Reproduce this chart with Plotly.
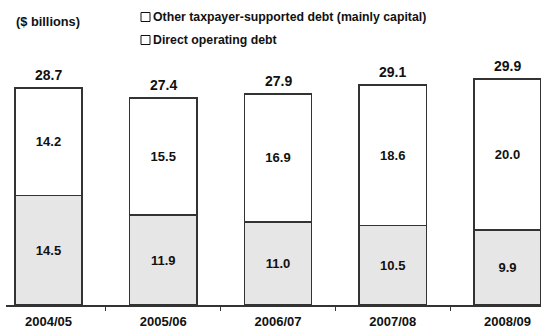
import plotly.graph_objects as go

categories = ["2004/05", "2005/06", "2006/07", "2007/08", "2008/09"]
direct_operating = [14.5, 11.9, 11.0, 10.5, 9.9]
other_taxpayer = [14.2, 15.5, 16.9, 18.6, 20.0]
totals = [28.7, 27.4, 27.9, 29.1, 29.9]

FONT = "Arial, 'Liberation Sans', sans-serif"
W, H = 541, 328
ML, MR, MT, MB = 6, 0, 0, 23
PW, PH = W - ML - MR, H - MT - MB

def px_x(px):
    return (px - ML) / PW

def px_y(py):
    return 1 - (py - MT) / PH

fig = go.Figure()
fig.add_trace(go.Bar(
    x=categories, y=direct_operating, name="Direct operating debt",
    marker=dict(color="#e6e6e6", line=dict(color="#333333", width=1.5)),
    text=[f"{v:.1f}" for v in direct_operating], textposition="inside",
    insidetextanchor="middle",
    textfont=dict(family=FONT, size=13, color="#111111", weight="bold"),
    width=0.587,
))
fig.add_trace(go.Bar(
    x=categories, y=other_taxpayer, name="Other taxpayer-supported debt (mainly capital)",
    marker=dict(color="#ffffff", line=dict(color="#333333", width=1.5)),
    text=[f"{v:.1f}" for v in other_taxpayer], textposition="inside",
    insidetextanchor="middle",
    textfont=dict(family=FONT, size=13, color="#111111", weight="bold"),
    width=0.587,
))

for c, t in zip(categories, totals):
    fig.add_annotation(x=c, y=t, text=f"<b>{t:.1f}</b>", showarrow=False,
                       yanchor="bottom", yshift=3,
                       font=dict(family=FONT, size=14, color="#111111"))

# header text and custom legend
fig.add_annotation(xref="paper", yref="paper", x=px_x(14), y=px_y(22),
                   xanchor="left", yanchor="middle", showarrow=False,
                   text="<b>($ billions)</b>", font=dict(family=FONT, size=12.8, color="#111111"))
legend_items = [("Other taxpayer-supported debt (mainly capital)", 17),
                ("Direct operating debt", 40)]
for label, yc in legend_items:
    fig.add_shape(type="rect", xref="paper", yref="paper",
                  x0=px_x(141), x1=px_x(150), y0=px_y(yc + 4.5), y1=px_y(yc - 4.5),
                  line=dict(color="#111111", width=1), fillcolor="#ffffff")
    fig.add_annotation(xref="paper", yref="paper", x=px_x(151), y=px_y(yc),
                       xanchor="left", yanchor="middle", showarrow=False,
                       text=f"<b>{label}</b>", font=dict(family=FONT, size=12.3, color="#111111"))

x0 = (ML - 48.5) / 114.75
x1 = (W - 48.5) / 114.75
fig.update_layout(
    barmode="stack", width=W, height=H,
    margin=dict(l=ML, r=MR, t=MT, b=MB),
    paper_bgcolor="white", plot_bgcolor="white", showlegend=False,
    xaxis=dict(range=[x0, x1], showline=True, linecolor="#333333", linewidth=1.5,
               ticks="outside", tickson="boundaries", ticklen=4, tickcolor="#333333",
               tickwidth=1, showgrid=False, zeroline=False, ticklabelstandoff=4,
               tickfont=dict(family=FONT, size=13, color="#111111", weight="bold")),
    yaxis=dict(range=[0, PH / 7.56], visible=False, showgrid=False, zeroline=False),
)
fig.write_html("out.html")
